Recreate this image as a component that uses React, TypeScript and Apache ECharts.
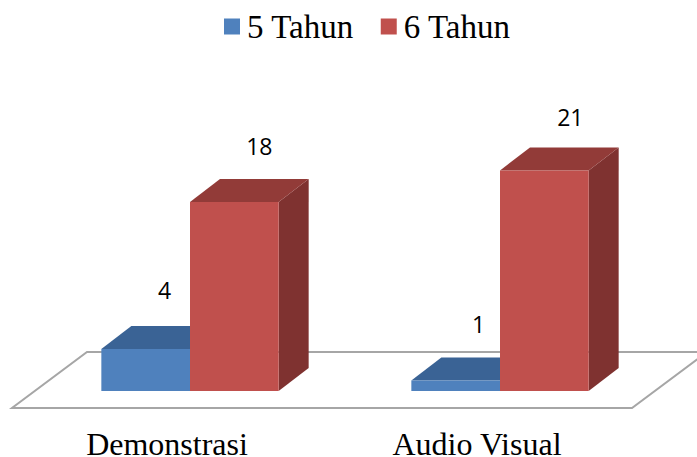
import React, { useEffect, useRef } from "react";
import * as echarts from "echarts";

const categories = ["Demonstrasi", "Audio Visual"];
const seriesNames = ["5 Tahun", "6 Tahun"];
const fiveYears = [4, 1];
const sixYears = [18, 21];

const serif = "'Liberation Serif', 'Times New Roman', serif";
const sans = "'Open Sans', sans-serif";

// Palette for each bar: front, top and side faces.
const blueFaces = { front: "#4f81bd", top: "#3a6395", side: "#2f5078" };
const redFaces = { front: "#c0504d", top: "#923b38", side: "#7f3230" };

// Oblique projection of the bar depth and of the floor depth.
const BAR_DEPTH_X = 30;
const BAR_DEPTH_Y = 23;
const FLOOR_DEPTH_X = 75;
const FLOOR_DEPTH_Y = 56;
const BAR_LIFT_Y = 17;
const BAR_SHIFT_X = 23;
const BAR_WIDTH_RATIO = 0.286;

// Value labels float above and behind each box; small per-label nudges keep them clear of it.
const fiveYearLabelNudge = [[-3, -4], [1, -2]];
const sixYearLabelNudge = [[3, -1], [4, 1]];

// Draws one oblique box; the side index decides which half of the band it fills.
function boxRenderer(faces: typeof blueFaces, sideIndex: number, nudges: number[][]) {
  return (params: any, api: any) => {
    const band = api.value(0);
    const value = api.value(1);
    const [cx, y0] = api.coord([band, 0]);
    const [, y1] = api.coord([band, value]);
    const w = api.size([1, 0])[0] * BAR_WIDTH_RATIO;
    const xL = cx + BAR_SHIFT_X + (sideIndex - 1) * w;
    const xR = xL + w;
    const base = y0 - BAR_LIFT_Y;
    const top = y1 - BAR_LIFT_Y;
    const dx = BAR_DEPTH_X;
    const dy = BAR_DEPTH_Y;
    const nudge = nudges[params.dataIndex];
    const poly = (points: number[][], fill: string) => ({
      type: "polygon",
      shape: { points },
      style: { fill, stroke: null },
    });
    return {
      type: "group",
      children: [
        poly([[xR, base], [xR + dx, base - dy], [xR + dx, top - dy], [xR, top]], faces.side),
        poly([[xL, top], [xR, top], [xR + dx, top - dy], [xL + dx, top - dy]], faces.top),
        poly([[xL, base], [xR, base], [xR, top], [xL, top]], faces.front),
        {
          type: "text",
          x: (xL + xR) / 2 + 22 + nudge[0],
          y: top - 55 + nudge[1],
          style: {
            text: String(value),
            fontFamily: sans,
            fontSize: 23,
            fill: "#000000",
            align: "center",
            verticalAlign: "middle",
          },
        },
      ],
    };
  };
}

// The floor is derived from the plot rectangle, its front edge on the category axis.
function floorRenderer(params: any) {
  const { x, y, width, height } = params.coordSys;
  const b = y + height;
  return {
    type: "polygon",
    shape: {
      points: [
        [x, b],
        [x + width, b],
        [x + width + FLOOR_DEPTH_X, b - FLOOR_DEPTH_Y],
        [x + FLOOR_DEPTH_X, b - FLOOR_DEPTH_Y],
      ],
    },
    style: { fill: "#ffffff", stroke: "#a6a6a6", lineWidth: 2 },
  };
}

export default function App() {
  const ref = useRef<HTMLDivElement>(null);

  useEffect(() => {
    const chart = echarts.init(ref.current!, undefined, { renderer: "svg" });
    chart.setOption({
      animation: false,
      backgroundColor: "#ffffff",
      legend: {
        data: seriesNames,
        icon: "rect",
        top: 10,
        left: 224,
        padding: 0,
        itemWidth: 16,
        itemHeight: 16,
        itemGap: 27,
        selectedMode: false,
        textStyle: {
          fontFamily: serif,
          fontSize: 33,
          color: "#000000",
          padding: [0, 0, 0, 2],
        },
      },
      grid: { left: 12, top: 93, width: 620, height: 315, outerBoundsMode: "none" },
      xAxis: {
        type: "category",
        data: categories,
        axisLine: { show: false },
        axisTick: { show: false },
        axisLabel: {
          fontFamily: serif,
          fontSize: 32,
          lineHeight: 24,
          color: "#000000",
          margin: 24,
        },
      },
      yAxis: {
        type: "value",
        min: 0,
        max: 30,
        show: false,
      },
      series: [
        {
          type: "custom",
          name: "floor",
          coordinateSystem: "cartesian2d",
          clip: false,
          silent: true,
          z: 1,
          data: [[0, 0]],
          renderItem: floorRenderer,
        },
        {
          type: "custom",
          name: seriesNames[0],
          coordinateSystem: "cartesian2d",
          clip: false,
          z: 2,
          itemStyle: { color: blueFaces.front },
          encode: { x: 0, y: 1 },
          data: fiveYears.map((v, i) => [i, v]),
          renderItem: boxRenderer(blueFaces, 0, fiveYearLabelNudge),
        },
        {
          type: "custom",
          name: seriesNames[1],
          coordinateSystem: "cartesian2d",
          clip: false,
          z: 3,
          itemStyle: { color: redFaces.front },
          encode: { x: 0, y: 1 },
          data: sixYears.map((v, i) => [i, v]),
          renderItem: boxRenderer(redFaces, 1, sixYearLabelNudge),
        },
      ],
    });
    return () => chart.dispose();
  }, []);

  return (
    <div
      ref={ref}
      style={{ position: "fixed", left: 0, top: 0, width: 697, height: 457 }}
    />
  );
}
